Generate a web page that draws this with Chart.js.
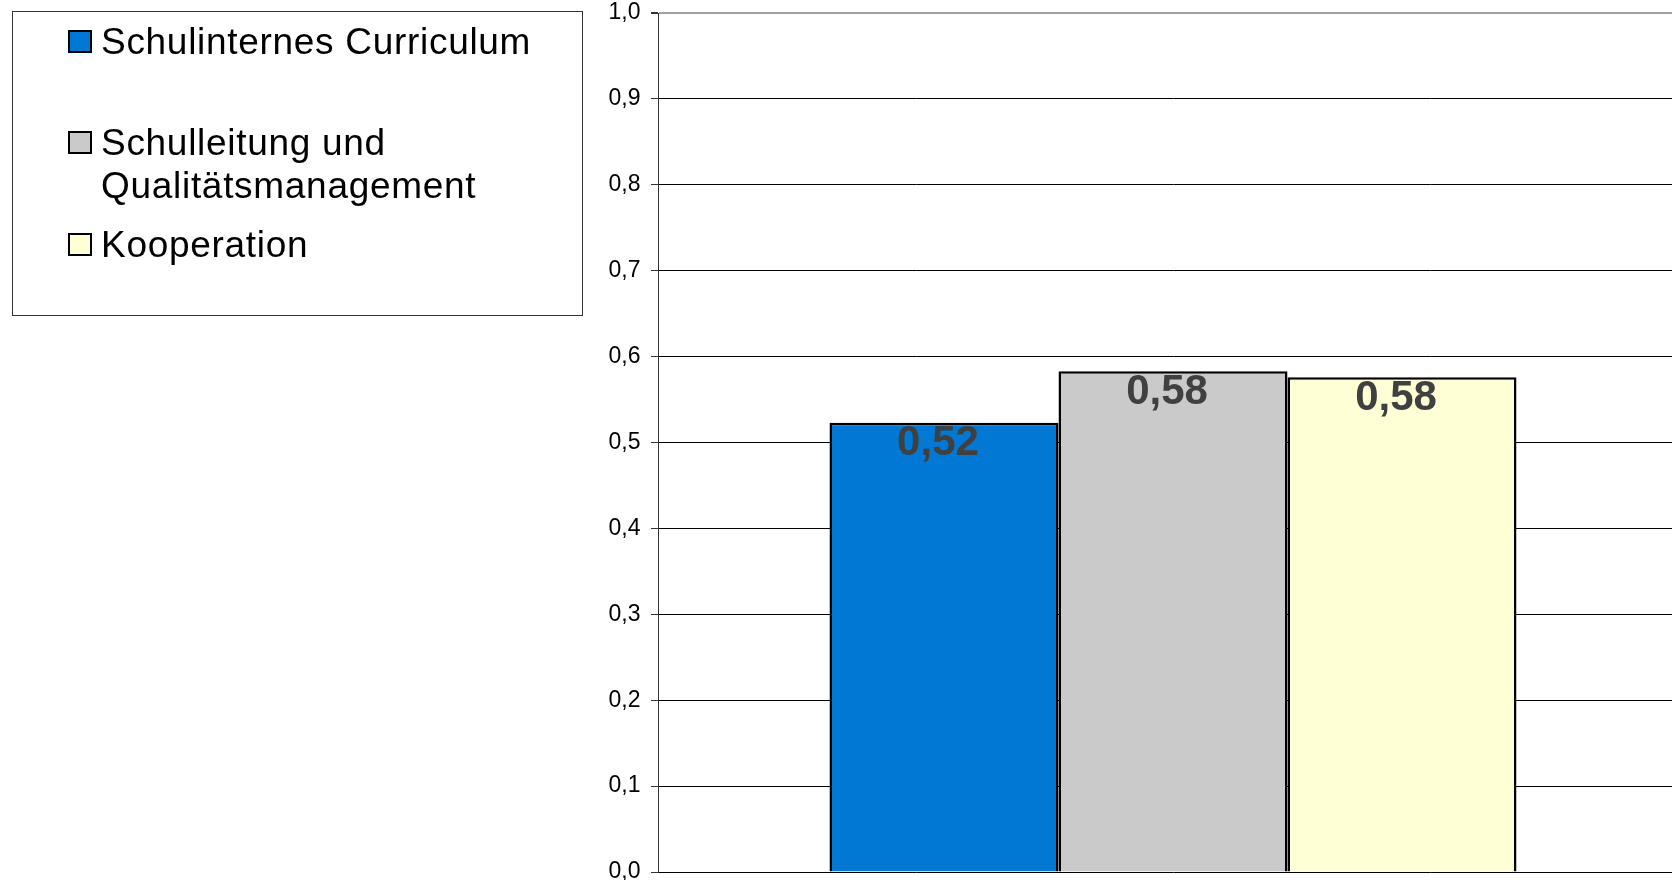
<!DOCTYPE html>
<html>
<head>
<meta charset="utf-8">
<script src="https://cdn.jsdelivr.net/npm/chart.js@4.4.0/dist/chart.umd.min.js"></script>
<style>
  html, body { margin: 0; padding: 0; background: #fff; overflow: hidden; }
  #wrap { width: 1690px; height: 900px; }
</style>
</head>
<body>
<div id="wrap"><canvas id="chart" width="1690" height="900"></canvas></div>
<script>
// Daten
const bereiche = ['Schulinternes Curriculum', 'Schulleitung und Qualitätsmanagement', 'Kooperation'];
const legendZeilen = [['Schulinternes Curriculum'], ['Schulleitung und', 'Qualitätsmanagement'], ['Kooperation']];
const werte = [0.523, 0.583, 0.576];
const farben = ['#0078d4', '#cacaca', '#ffffd6'];
const yMin = 0, yMax = 1, yStep = 0.1;

const fmt = (v, d) => v.toFixed(d).replace('.', ',');
const FONT = '"Liberation Sans", Arial, sans-serif';

// Legende links im Kasten
const legendePlugin = {
    id: 'legendeKasten',
    afterDraw(chart) {
        const ctx = chart.ctx;
        ctx.save();
        ctx.strokeStyle = '#333';
        ctx.lineWidth = 1;
        ctx.strokeRect(12.5, 11.5, 570, 304);

        const boxY = [31, 132, 234];
        const zeilenY = [[42.5], [143, 186.5], [245]];
        ctx.font = '37px ' + FONT;
        ctx.letterSpacing = '0.7px';
        ctx.textBaseline = 'middle';
        ctx.textAlign = 'left';
        legendZeilen.forEach((zeilen, i) => {
            ctx.fillStyle = farben[i];
            ctx.fillRect(69, boxY[i], 22, 21);
            ctx.strokeStyle = '#000';
            ctx.lineWidth = 2;
            ctx.strokeRect(69, boxY[i], 22, 21);
            ctx.fillStyle = '#000';
            zeilen.forEach((t, j) => ctx.fillText(t, 101, zeilenY[i][j] + 1.5));
        });
        ctx.restore();
    }
};

// Werte oben in den Balken
const wertePlugin = {
    id: 'werteLabels',
    afterDatasetsDraw(chart) {
        const ctx = chart.ctx;
        ctx.save();
        ctx.font = 'bold 42px ' + FONT;
        ctx.fillStyle = '#404040';
        ctx.textAlign = 'center';
        ctx.textBaseline = 'middle';
        chart.data.datasets.forEach((ds, i) => {
            const bar = chart.getDatasetMeta(i).data[0];
            ctx.fillText(fmt(ds.data[0], 2), bar.x - 6, bar.y + 21);
        });
        ctx.restore();
    }
};

new Chart(document.getElementById('chart'), {
    type: 'bar',
    data: {
        labels: [''],
        datasets: bereiche.map((b, i) => ({
            label: b,
            data: [werte[i]],
            backgroundColor: farben[i],
            borderColor: '#000',
            borderWidth: 2.5,
            categoryPercentage: 0.667,
            barPercentage: 1
        }))
    },
    options: {
        responsive: false,
        animation: false,
        devicePixelRatio: 1,
        layout: { padding: { top: 13, bottom: 28, right: 2, left: 0 } },
        plugins: { legend: { display: false }, tooltip: { enabled: false } },
        scales: {
            x: { display: false },
            y: {
                min: yMin,
                max: yMax,
                afterFit(scale) {
                    scale.width = 658;
                    scale.paddingTop = 0;
                    scale.paddingBottom = 0;
                },
                border: { display: true, color: '#333', width: 1 },
                grid: {
                    color: c => c.tick && c.tick.value === yMax ? '#a0a0a0' : '#000',
                    lineWidth: c => c.tick && c.tick.value === yMax ? 2 : 1,
                    tickLength: 7,
                    tickColor: '#333'
                },
                ticks: {
                    stepSize: yStep,
                    padding: 10.5,
                    color: '#000',
                    font: { family: FONT, size: 23 },
                    callback: v => fmt(v, 1)
                }
            }
        }
    },
    plugins: [wertePlugin, legendePlugin]
});
</script>
</body>
</html>
